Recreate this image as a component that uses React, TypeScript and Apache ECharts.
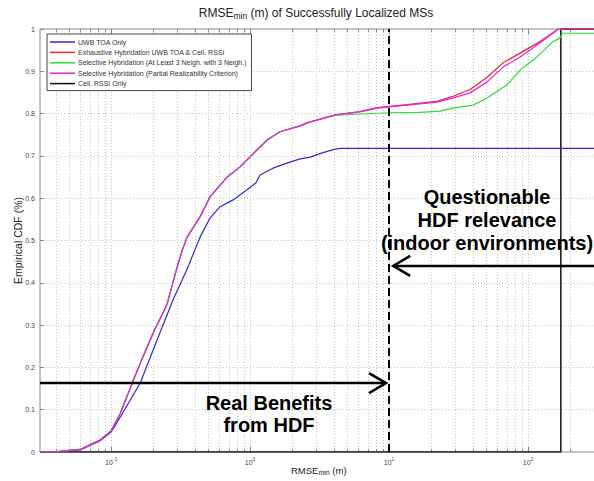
import React, { useEffect, useRef } from "react";
import * as echarts from "echarts";

// ---- data (x: RMSE_min in m, y: empirical CDF) ----
const legendNames = [
  "UWB TOA Only",
  "Exhaustive Hybridation UWB TOA & Cell. RSSI",
  "Selective Hybridation (At Least 3 Neigh. with 3 Neigh.)",
  "Selective Hybridation (Partial Realizability Criterion)",
  "Cell. RSSI Only",
];

const uwbToaOnly: [number, number][] = [
  [0.0308, 0], [0.041, 0.001], [0.06, 0.005], [0.083, 0.026], [0.1, 0.047],
  [0.11, 0.069], [0.125, 0.1], [0.162, 0.163], [0.2, 0.24], [0.279, 0.36],
  [0.35, 0.43], [0.4, 0.477], [0.4365, 0.508], [0.515, 0.553], [0.608, 0.58],
  [0.755, 0.596], [0.95, 0.62], [1.1, 0.636], [1.18, 0.655], [1.46, 0.671],
  [1.84, 0.683], [2.29, 0.693], [2.71, 0.697], [3.3, 0.707], [4.09, 0.716],
  [4.5, 0.718], [316.23, 0.718],
];

const exhaustive: [number, number][] = [
  [0.0308, 0], [0.041, 0.001], [0.06, 0.006], [0.083, 0.028], [0.1, 0.05],
  [0.116, 0.09], [0.142, 0.163], [0.162, 0.21], [0.2, 0.28], [0.253, 0.35],
  [0.2985, 0.437], [0.325, 0.477], [0.352, 0.508], [0.4365, 0.556], [0.515, 0.603],
  [0.608, 0.631], [0.684, 0.65], [0.847, 0.674], [0.995, 0.697], [1.12, 0.714],
  [1.33, 0.738], [1.64, 0.757], [2.29, 0.771], [2.57, 0.778], [4.09, 0.797],
  [6.18, 0.805], [8.2, 0.814], [13.5, 0.821], [22.1, 0.829], [28.9, 0.841],
  [38.3, 0.857], [50.7, 0.886], [66.1, 0.92], [87.5, 0.943], [116, 0.966],
  [151, 0.991], [164, 1], [316.23, 1],
];

const selective3Neigh: [number, number][] = [
  [0.0308, 0], [0.041, 0.001], [0.06, 0.006], [0.083, 0.028], [0.1, 0.05],
  [0.116, 0.09], [0.142, 0.163], [0.162, 0.21], [0.2, 0.28], [0.253, 0.35],
  [0.2985, 0.437], [0.325, 0.477], [0.352, 0.508], [0.4365, 0.556], [0.515, 0.603],
  [0.608, 0.631], [0.684, 0.65], [0.847, 0.674], [0.995, 0.697], [1.12, 0.714],
  [1.33, 0.738], [1.64, 0.757], [2.29, 0.771], [2.57, 0.778], [4.09, 0.796],
  [6.18, 0.799], [10.2, 0.802], [16.7, 0.803], [23.3, 0.806], [28.9, 0.813],
  [40.2, 0.82], [50.7, 0.837], [70.6, 0.868], [87.5, 0.903], [116, 0.934],
  [151, 0.97], [170, 0.979], [176, 0.99], [316.23, 0.99],
];

const selectivePartial: [number, number][] = [
  [0.0308, 0], [0.041, 0.001], [0.06, 0.006], [0.083, 0.028], [0.1, 0.05],
  [0.116, 0.09], [0.142, 0.163], [0.162, 0.21], [0.2, 0.28], [0.253, 0.35],
  [0.2985, 0.437], [0.325, 0.477], [0.352, 0.508], [0.4365, 0.556], [0.515, 0.603],
  [0.608, 0.631], [0.684, 0.65], [0.847, 0.674], [0.995, 0.697], [1.12, 0.714],
  [1.33, 0.738], [1.64, 0.757], [2.29, 0.771], [2.57, 0.778], [4.09, 0.797],
  [6.18, 0.804], [8.2, 0.813], [13.5, 0.82], [22.1, 0.827], [28.9, 0.837],
  [38.3, 0.849], [50.7, 0.875], [66.1, 0.91], [87.5, 0.934], [116, 0.962],
  [151, 0.99], [164, 1], [316.23, 1],
];

const cellRssiOnly: [number, number][] = [
  [0.0308, 0], [172, 0], [172, 1], [316.23, 1],
];

// annotations
const thresholdX = 10;
const arrows = [
  { from: 0.0308, to: 9.5, y: 0.163 },
  { from: 316.23, to: 10.7, y: 0.44 },
];

const X_MIN = 0.0308;
const X_MAX = 316.23;

function logGridValues(): number[] {
  const out: number[] = [];
  for (let e = -2; e <= 2; e++) {
    for (let k = 1; k <= 9; k++) {
      const v = k * Math.pow(10, e);
      if (v > X_MIN * 1.001 && v < X_MAX * 0.999) out.push(v);
    }
  }
  return out;
}

const isPow10 = (v: number) => {
  const l = Math.log10(v);
  return Math.abs(l - Math.round(l)) < 1e-6;
};

const FONT = "'Liberation Sans', Arial, sans-serif";

export default function App() {
  const ref = useRef<HTMLDivElement>(null);

  useEffect(() => {
    if (!ref.current) return;
    const chart = echarts.init(ref.current, undefined, { renderer: "svg" });
    const colors = ["#2a2ad8", "#e8242a", "#30dd30", "#e820e8", "#111111"];
    const curves = [uwbToaOnly, exhaustive, selective3Neigh, selectivePartial];

    const lineSeries: any[] = curves.map((d, i) => ({
      name: legendNames[i],
      type: "line",
      data: d,
      showSymbol: false,
      symbol: "none",
      color: colors[i],
      lineStyle: { color: colors[i], width: 1.2 },
      z: 3,
    }));

    const option: any = {
      animation: false,
      backgroundColor: "#ffffff",
      textStyle: { fontFamily: FONT },
      grid: {
        left: 40,
        top: 29,
        width: 557.6,
        height: 423,
        show: true,
        borderColor: "#8a8a8a",
        borderWidth: 1,
        containLabel: false,
        outerBoundsMode: "none",
      },
      legend: {
        data: legendNames,
        orient: "vertical",
        left: 47,
        top: 34,
        icon: "rect",
        itemWidth: 25,
        itemHeight: 1.5,
        itemGap: 2.4,
        padding: [4, 5, 3, 3],
        backgroundColor: "#ffffff",
        borderColor: "#444",
        borderWidth: 1,
        borderRadius: 0,
        textStyle: { fontSize: 7, lineHeight: 8, color: "#333", fontFamily: FONT, padding: [0, 0, 0, -2] },
        z: 10,
      },
      xAxis: {
        type: "log",
        logBase: 10,
        min: X_MIN,
        max: X_MAX,
        axisLine: { show: false },
        axisTick: { show: false },
        splitLine: { show: false },
        minorTick: { show: false },
        axisLabel: {
          margin: 4,
          formatter: (v: number) => {
            if (!isPow10(v)) return "";
            return "{b|10}{s|" + Math.round(Math.log10(v)) + "}";
          },
          rich: {
            b: { fontSize: 7, color: "#444", lineHeight: 12, fontFamily: FONT },
            s: { fontSize: 5, color: "#444", lineHeight: 5, verticalAlign: "top", fontFamily: FONT },
          },
        },
        name: "{a|RMSE}{s|min}{a| (m)}",
        nameLocation: "middle",
        nameGap: 12,
        nameMoveOverlap: false,
        nameTextStyle: {
          rich: {
            a: { fontSize: 9.5, color: "#222", lineHeight: 12, fontFamily: FONT },
            s: { fontSize: 7, color: "#222", lineHeight: 5, verticalAlign: "bottom", fontFamily: FONT },
          },
        },
      },
      yAxis: {
        type: "value",
        min: 0,
        max: 1,
        interval: 0.1,
        axisLine: { show: false },
        axisTick: { show: true, inside: true, length: 4, lineStyle: { color: "#888" } },
        splitLine: { show: true, lineStyle: { color: "#c4c4c4", type: [1, 2], width: 1 } },
        axisLabel: {
          margin: 5,
          fontSize: 7,
          color: "#444",
          fontFamily: FONT,
          formatter: (v: number) => String(Number(v.toFixed(1))),
        },
        name: "Empirical CDF (%)",
        nameLocation: "middle",
        nameGap: 17,
        nameMoveOverlap: false,
        nameTextStyle: { fontSize: 10.5, color: "#222", fontFamily: FONT },
      },
      series: [
        {
          type: "custom",
          name: "xgrid",
          silent: true,
          z: 1,
          data: logGridValues().map((v) => [v, 0]),
          encode: { x: 0, y: 1 },
          renderItem: (params: any, api: any) => {
            const v = api.value(0);
            const top = api.coord([v, 1]);
            const bot = api.coord([v, 0]);
            const tl = isPow10(v) ? 5 : 3;
            const x = Math.round(top[0]) + 0.5;
            return {
              type: "group",
              children: [
                { type: "line", shape: { x1: x, y1: top[1], x2: x, y2: bot[1] }, style: { stroke: "#c4c4c4", lineWidth: 1, lineDash: [1, 2] } },
                { type: "line", shape: { x1: x, y1: bot[1], x2: x, y2: bot[1] - tl }, style: { stroke: "#888", lineWidth: 1 } },
                { type: "line", shape: { x1: x, y1: top[1], x2: x, y2: top[1] + tl }, style: { stroke: "#888", lineWidth: 1 } },
              ],
            };
          },
        },
        {
          name: legendNames[4],
          type: "line",
          data: cellRssiOnly,
          showSymbol: false,
          symbol: "none",
          color: colors[4],
          lineStyle: { color: colors[4], width: 1.5 },
          z: 2,
          markLine: {
            silent: true,
            symbol: "none",
            label: { show: false },
            lineStyle: { color: "#000", width: 2, type: [8, 4] },
            data: [{ xAxis: thresholdX }],
          },
        },
        ...lineSeries,
        {
          type: "custom",
          name: "arrows",
          silent: true,
          z: 5,
          data: arrows.map((a) => [a.from, a.to, a.y]),
          encode: { x: [0, 1], y: 2 },
          renderItem: (params: any, api: any) => {
            const a = api.coord([api.value(0), api.value(2)]);
            const b = api.coord([api.value(1), api.value(2)]);
            const dir = b[0] > a[0] ? 1 : -1;
            return {
              type: "group",
              children: [
                { type: "line", shape: { x1: a[0], y1: a[1], x2: b[0], y2: b[1] }, style: { stroke: "#000", lineWidth: 2.5 } },
                {
                  type: "polyline",
                  shape: { points: [[b[0] - dir * 17, b[1] - 10], [b[0], b[1]], [b[0] - dir * 17, b[1] + 10]] },
                  style: { stroke: "#000", lineWidth: 2.5, fill: "none" },
                },
              ],
            };
          },
        },
      ],
      graphic: [
        {
          type: "text",
          x: 316,
          y: 13,
          style: {
            text: "{a|RMSE}{s|min}{a| (m) of Successfully Localized MSs}",
            textAlign: "center",
            textVerticalAlign: "middle",
            align: "center",
            verticalAlign: "middle",
            rich: {
              a: { fontSize: 12, fill: "#222", lineHeight: 14, fontFamily: FONT },
              s: { fontSize: 8.5, fill: "#222", lineHeight: 6, verticalAlign: "bottom", fontFamily: FONT },
            },
          },
          z: 20,
        },
        {
          type: "text",
          x: 487,
          y: 220,
          style: {
            text: "Questionable\nHDF relevance\n(indoor environments)",
            textAlign: "center",
            textVerticalAlign: "middle",
            align: "center",
            verticalAlign: "middle",
            font: "bold 20px " + FONT,
            lineHeight: 23,
            fill: "#000",
          },
          z: 20,
        },
        {
          type: "text",
          x: 269,
          y: 414,
          style: {
            text: "Real Benefits\nfrom HDF",
            textAlign: "center",
            textVerticalAlign: "middle",
            align: "center",
            verticalAlign: "middle",
            font: "bold 20px " + FONT,
            lineHeight: 22,
            fill: "#000",
          },
          z: 20,
        },
      ],
    };

    chart.setOption(option);
    return () => chart.dispose();
  }, []);

  return (
    <div
      ref={ref}
      style={{ position: "absolute", left: 0, top: 0, width: 594, height: 481, background: "#fff" }}
    />
  );
}
